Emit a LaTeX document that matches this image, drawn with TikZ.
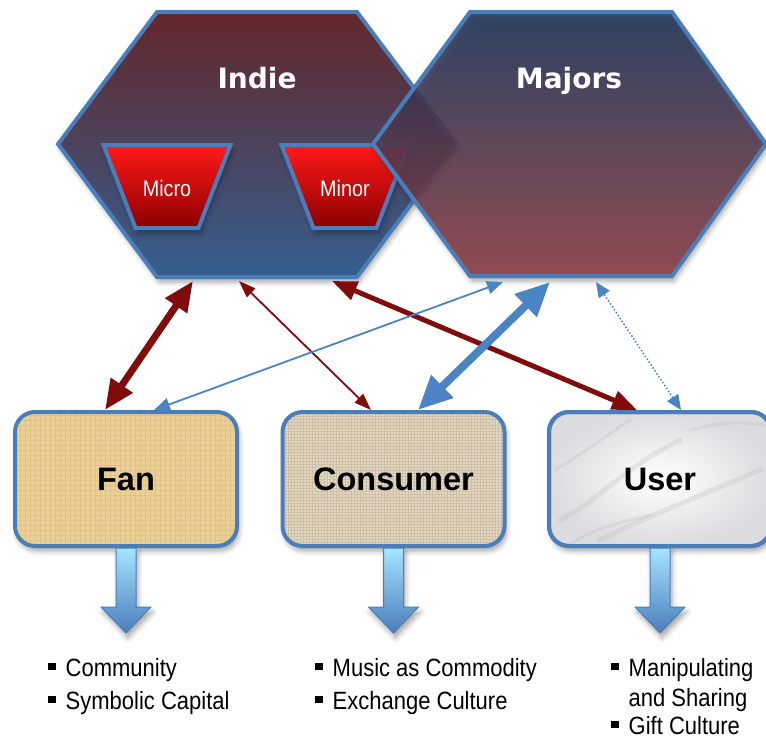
\documentclass[tikz,border=0pt]{standalone}
\usepackage{fontspec}
\setmainfont{Liberation Sans}[FakeStretch=0.88]
\newfontfamily\labfont{DejaVu Sans}
\newfontfamily\boxfont{Liberation Sans}
\usetikzlibrary{arrows.meta, shadows.blur, patterns.meta}
\definecolor{edgeblue}{HTML}{4A7EBB}
\definecolor{linkred}{HTML}{800B0B}
\definecolor{linkblue}{HTML}{4A84C4}
\definecolor{indietop}{HTML}{63262A}
\definecolor{indiemid}{HTML}{4E4466}
\definecolor{indiebot}{HTML}{355F8F}
\definecolor{majorstop}{HTML}{1D355A}
\definecolor{majorsmid}{HTML}{683A56}
\definecolor{majorsbot}{HTML}{8F3F45}
\definecolor{papyrus}{HTML}{EACF98}
\definecolor{papyrusdark}{HTML}{E0C285}
\definecolor{burlap}{HTML}{E2D8C4}
\definecolor{burlapdark}{HTML}{CDBFA3}
\definecolor{marble}{HTML}{DCDCE0}
\newcommand\sqb{\rule[6pt]{7.5pt}{7.5pt}\hspace{10pt}}
\tikzset{
  softshadow/.style={blur shadow={shadow xshift=2pt, shadow yshift=-5pt, shadow blur radius=5pt, shadow opacity=35}},
  hexa/.style={draw=edgeblue, line width=4pt, softshadow},
  hexlabel/.style={anchor=base, text=white, font=\labfont\bfseries\fontsize{28}{30}\selectfont},
  trap/.style={draw=edgeblue, line width=4pt, line join=miter,
    top color=red!90!white, bottom color=red!55!black, softshadow},
  traplabel/.style={text=white, font=\fontsize{22.5}{24}\selectfont},
  box/.style={draw=edgeblue, line width=4pt, rounded corners=20pt, minimum width=222pt,
    minimum height=134pt, font=\boxfont\bfseries\fontsize{32.5}{36}\selectfont, softshadow},
  streak/.style={draw=gray!50, line width=5pt, line cap=round, opacity=0.3},
  downarr/.style={draw=edgeblue, line width=1pt, top color=blue!30!cyan!35!white, bottom color=edgeblue, softshadow},
  item/.style={anchor=base west, inner sep=0pt, font=\fontsize{25}{30}\selectfont}
}
\begin{document}
\begin{tikzpicture}[x=1pt, y=-1pt]
\useasboundingbox (0,0) rectangle (766,740);
% labels on top
\path[hexa, top color=indietop, middle color=indiemid, bottom color=indiebot]
  (157,12) -- (357,12) -- (456,144) -- (357,277) -- (157,277) -- (58,144) -- cycle;
\node[hexlabel] (indie) at (257,88) {Indie};
\foreach \x/\n/\t in {167/micro/Micro, 345/minor/Minor} {
  \path[trap] (\x-63.5,145) -- (\x+63.5,145) -- (\x+31.5,228) -- (\x-31.5,228) -- cycle;
  \node[traplabel] (\n) at (\x,188) {\t};
}
\path[hexa, fill opacity=0.88, top color=majorstop, middle color=majorsmid, bottom color=majorsbot]
  (470,12) -- (672,12) -- (766,144) -- (672,276) -- (470,276) -- (373,144) -- cycle;
\node[hexlabel] (majors) at (569,88) {Majors};
\coordinate (indieS) at (257,281);
\coordinate (majorsS) at (571,282);

% the three kinds of listener
\node[box, preaction={fill=papyrus}, preaction={pattern={Hatch[angle=0, distance=5pt, line width=0.7pt]}, pattern color=papyrusdark}] (fan) at (126,479) {Fan};
\node[box, preaction={fill=burlap}, preaction={pattern={Hatch[angle=0, distance=3pt, line width=0.6pt]}, pattern color=burlapdark}] (consumer) at (393.5,479) {Consumer};
\node[box, preaction={inner color=white, outer color=marble}] (user) at (660,479) {};
\begin{scope}
  \clip[rounded corners=18pt] (551,414) rectangle (769,544);
  \draw[streak] (560,520) .. controls (600,500) and (620,470) .. (680,440);
  \draw[streak] (600,540) .. controls (640,520) and (690,500) .. (760,470);
  \draw[streak, line width=3pt] (555,470) .. controls (580,455) and (600,440) .. (630,420);
  \draw[streak, line width=3pt] (690,430) .. controls (710,425) and (730,420) .. (765,425);
  \draw[streak, line width=3pt] (570,545) .. controls (590,530) and (610,525) .. (650,515);
\end{scope}
\node[box, fill=none, blur shadow={shadow opacity=0}] (userlabel) at (user) {User};

\foreach \b in {fan, consumer, user}
  \path[downarr] ([xshift=-10pt]\b.south) -- ++(0,59) -- ++(-15,0) -- ++(25,26)
    -- ++(25,-26) -- ++(-15,0) -- ++(0,-59) -- cycle;

% links
\draw[linkred, line width=7pt, {Triangle[length=30pt, width=25pt]}-{Triangle[length=30pt, width=25pt]}]
  ([xshift=-21pt]fan.north) -- ([xshift=-64pt]indieS);
\draw[linkred, line width=1.8pt, {Triangle[length=17pt, width=12pt]}-{Triangle[length=17pt, width=12pt]}]
  ([xshift=-22.5pt]consumer.north) -- ([xshift=-18pt]indieS);
\draw[linkred, line width=5pt, {Triangle[length=25pt, width=19pt]}-{Triangle[length=25pt, width=19pt]}]
  ([xshift=-23pt]user.north) -- ([xshift=75pt]indieS);
\draw[linkblue, line width=1.8pt, {Triangle[length=16pt, width=13pt]}-{Triangle[length=16pt, width=13pt]}]
  ([xshift=28pt]fan.north) -- ([xshift=-68pt]majorsS);
\draw[linkblue, line width=8pt, {Triangle[length=34pt, width=30pt]}-{Triangle[length=34pt, width=30pt]}]
  ([xshift=24.5pt]consumer.north) -- ([xshift=-21pt]majorsS);
\draw[linkblue, line width=1.5pt, dash pattern=on 1.5pt off 2pt, {Triangle[length=15pt, width=13pt]}-{Triangle[length=15pt, width=13pt]}]
  ([xshift=21pt]user.north) -- ([xshift=25pt]majorsS);

% lists
\node[item] (fan1) at (48,676) {\sqb Community};
\node[item] (fan2) at (48,709) {\sqb Symbolic Capital};
\node[item] (con1) at (315,676) {\sqb Music as Commodity};
\node[item] (con2) at (315,709) {\sqb Exchange Culture};
\node[item] (user1) at (611,676) {\sqb Manipulating};
\node[item] (user2) at (611,706) {\phantom{\sqb}and Sharing};
\node[item] (user3) at (611,734) {\sqb Gift Culture};
\end{tikzpicture}
\end{document}
